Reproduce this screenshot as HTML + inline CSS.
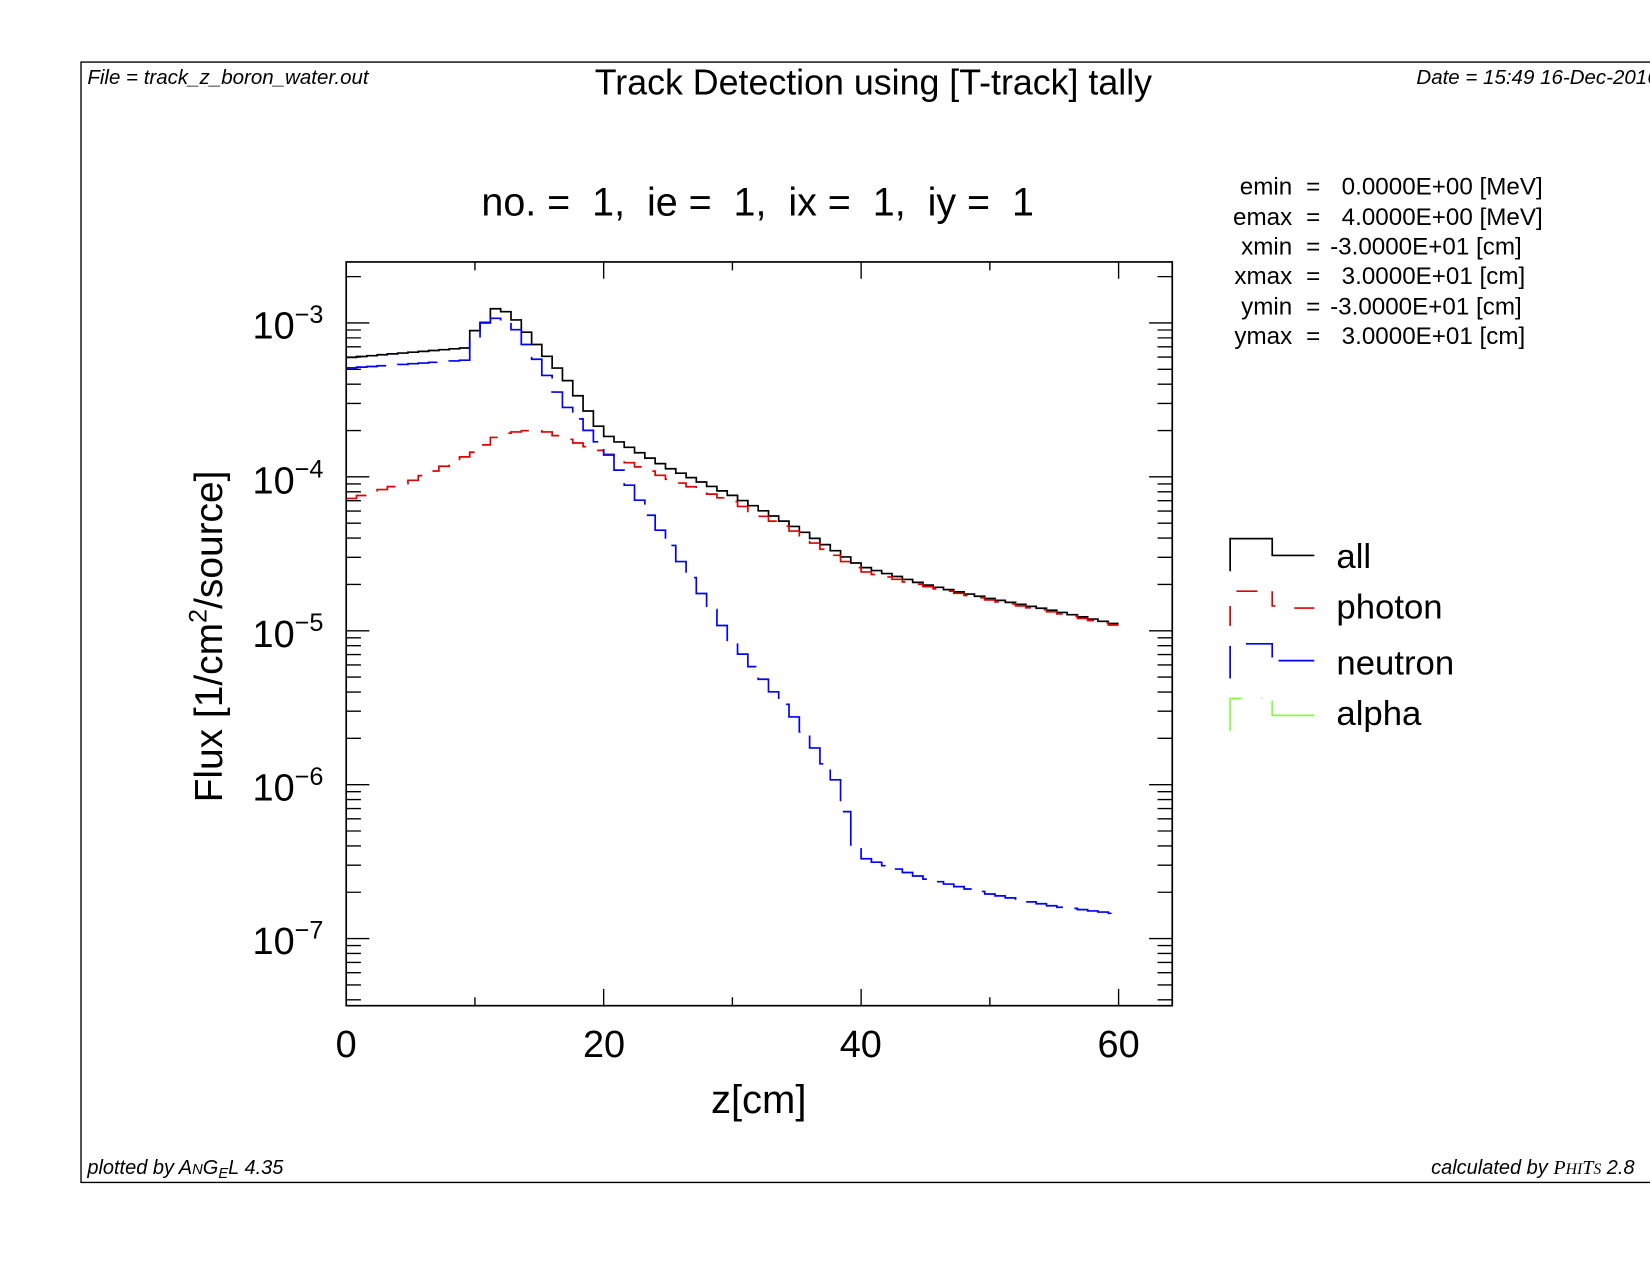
<!DOCTYPE html>
<html><head><meta charset="utf-8"><style>
html,body{margin:0;padding:0;background:#fff;}
svg{display:block;}
text{font-family:"Liberation Sans",sans-serif;fill:#000;}
</style></head><body>
<svg id="s" width="1650" height="1275" viewBox="0 0 1568 1212" preserveAspectRatio="none" xmlns="http://www.w3.org/2000/svg">
<rect x="0" y="0" width="1568" height="1212" fill="#fff"/>
<path d="M1570 59 H77 V1124 H1570" fill="none" stroke="#000" stroke-width="1.3"/>
<text x="83" y="80" font-size="19.5" font-style="italic">File = track_z_boron_water.out</text>
<text x="1346" y="80" font-size="19.5" font-style="italic">Date = 15:49 16-Dec-2016</text>
<text x="83" y="1116" font-size="19" font-style="italic">plotted by A<tspan font-size="14">N</tspan>G<tspan font-size="14" dy="4">E</tspan><tspan dy="-4">L 4.35</tspan></text>
<text x="1360" y="1116" font-size="19" font-style="italic">calculated by <tspan font-family="Liberation Serif">P<tspan font-size="15">HI</tspan>T<tspan font-size="15">S</tspan></tspan> 2.8</text>
<text x="830" y="90" font-size="34" text-anchor="middle">Track Detection using [T-track] tally</text>
<text x="720" y="205" font-size="37.5" text-anchor="middle" xml:space="preserve">no. =  1,  ie =  1,  ix =  1,  iy =  1</text>
<g font-size="23">
<g text-anchor="end"><text x="1228" y="185">emin</text><text x="1228" y="214">emax</text><text x="1228" y="242">xmin</text><text x="1228" y="270">xmax</text><text x="1228" y="299">ymin</text><text x="1228" y="327">ymax</text></g>
<g text-anchor="middle"><text x="1248" y="185">=</text><text x="1248" y="214">=</text><text x="1248" y="242">=</text><text x="1248" y="270">=</text><text x="1248" y="299">=</text><text x="1248" y="327">=</text></g>
<text x="1275" y="185">0.0000E+00 [MeV]</text><text x="1275" y="214">4.0000E+00 [MeV]</text><text x="1264" y="242">-3.0000E+01 [cm]</text><text x="1275" y="270">3.0000E+01 [cm]</text><text x="1264" y="299">-3.0000E+01 [cm]</text><text x="1275" y="327">3.0000E+01 [cm]</text>
</g>
<g id="ax"></g>
<g id="cv"></g>
<rect x="329" y="249" width="785" height="707" fill="none" stroke="#000" stroke-width="1.6"/>
<g font-size="36" text-anchor="middle"><text x="329" y="1005">0</text><text x="574" y="1005">20</text><text x="818" y="1005">40</text><text x="1063" y="1005">60</text></g>
<text x="721" y="1058" font-size="38" text-anchor="middle">z[cm]</text>
<text transform="translate(211,605) rotate(-90)" font-size="37" text-anchor="middle">Flux [1/cm<tspan font-size="24" dy="-15">2</tspan><tspan dy="15">/source]</tspan></text>
<g font-size="36">
<text x="240" y="322">10<tspan font-size="24" dy="-15">−3</tspan></text>
<text x="240" y="469">10<tspan font-size="24" dy="-15">−4</tspan></text>
<text x="240" y="615">10<tspan font-size="24" dy="-15">−5</tspan></text>
<text x="240" y="761">10<tspan font-size="24" dy="-15">−6</tspan></text>
<text x="240" y="907">10<tspan font-size="24" dy="-15">−7</tspan></text>
</g>
<g fill="none" stroke-width="1.6">
<path d="M1169 543 V512 H1209 V528 H1249" stroke="#000"/>
<path d="M1169 595 V576 M1175 562 H1195 M1209 562 V576 H1212 M1230 578 H1249" stroke="#e00000"/>
<path d="M1169 645 V614 M1184 612 H1209 V625 M1215 628 H1249" stroke="#0000ff"/>
<path d="M1169 695 V664 H1180 M1199 663 V664 M1209 666 V680 H1249" stroke="#80ff40"/>
</g>
<g font-size="33"><text x="1270" y="540">all</text><text x="1270" y="588">photon</text><text x="1270" y="641">neutron</text><text x="1270" y="689">alpha</text></g>
</svg>
<script>
var NS="http://www.w3.org/2000/svg";
function X(z){return 329+z*(1063-329)/60;}
function Y(l){return 307-(l+3)*146.3;}
var ax=document.getElementById('ax'),d="";
[0,20,40,60].forEach(function(z){var x=X(z);d+="M"+x+" 956V940M"+x+" 249V265";});
[10,30,50].forEach(function(z){var x=X(z);d+="M"+x+" 956V948M"+x+" 249V257";});
for(var e=-8;e<=-2;e++){for(var m=1;m<10;m++){var l=e+Math.log10(m);var y=Y(l);if(y<249||y>956)continue;var L=m==1?22:14;d+="M329 "+y+"H"+(329+L)+"M1114 "+y+"H"+(1114-L);}}
var p=document.createElementNS(NS,'path');p.setAttribute('d',d);p.setAttribute('stroke','#000');p.setAttribute('stroke-width','1.3');p.setAttribute('fill','none');ax.appendChild(p);
function interp(k,z){for(var i=0;i<k.length-1;i++){if(z<=k[i+1][0]){var t=(z-k[i][0])/(k[i+1][0]-k[i][0]);return k[i][1]+t*(k[i+1][1]-k[i][1]);}}return k[k.length-1][1];}
var black=[[0,-3.226],[9.6,-3.16],[10,-3.05],[10.8,-3.0],[11.2,-2.91],[12,-2.905],[13,-2.96],[15,-3.16],[17,-3.35],[20,-3.72],[25,-3.94],[30,-4.12],[35,-4.33],[40,-4.58],[45,-4.70],[50,-4.79],[55,-4.87],[60,-4.96]];
var red=[[0,-4.15],[5,-4.03],[10,-3.84],[12,-3.72],[15,-3.69],[20,-3.84],[25,-4.01],[30,-4.16],[35,-4.36],[40,-4.61],[45,-4.71],[50,-4.80],[55,-4.88],[60,-4.97]];
var blue=[[0,-3.294],[9.6,-3.24],[10,-3.10],[11,-2.97],[12,-2.97],[13,-3.02],[15,-3.26],[17,-3.53],[20,-3.81],[25,-4.42],[30,-5.07],[35,-5.58],[38.4,-6.02],[39.2,-6.33],[40,-6.47],[45,-6.61],[50,-6.71],[55,-6.79],[60,-6.84]];
function step(k,w){var s="",n=Math.round(60/w);for(var i=0;i<n;i++){var z0=i*w,z1=(i+1)*w,y=Y(interp(k,(z0+z1)/2));if(i==0)s="M"+X(z0).toFixed(1)+" "+y.toFixed(1);s+="H"+X(z1).toFixed(1);if(i<n-1){var y2=Y(interp(k,(z1+z1+w)/2));s+="V"+y2.toFixed(1);}}return s;}
var cv=document.getElementById('cv');
[[black,'#000',null],[red,'#e00000','22 14'],[blue,'#0000ff','40 12']].forEach(function(c){var p=document.createElementNS(NS,'path');p.setAttribute('d',step(c[0],0.8));p.setAttribute('stroke',c[1]);p.setAttribute('stroke-width','1.6');p.setAttribute('fill','none');if(c[2])p.setAttribute('stroke-dasharray',c[2]);cv.appendChild(p);});
</script>
</body></html>
